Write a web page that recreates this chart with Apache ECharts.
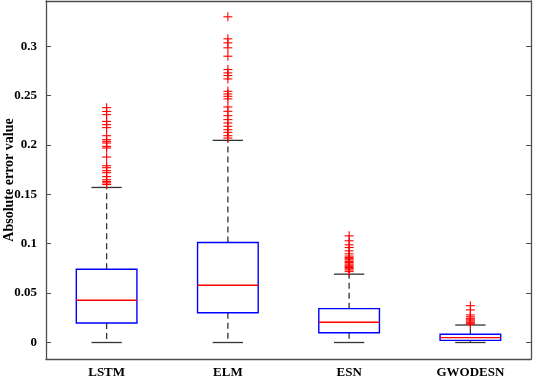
<!DOCTYPE html>
<html>
<head>
<meta charset="utf-8">
<script src="https://cdn.jsdelivr.net/npm/echarts@6/dist/echarts.min.js"></script>
<style>
  html, body { margin: 0; padding: 0; background: #fff; }
  #chart { width: 533px; height: 379px; }
</style>
</head>
<body>
<div id="chart"></div>
<script>
// models on the x axis
const models = ['LSTM', 'ELM', 'ESN', 'GWODESN'];

// [lower whisker, Q1, median, Q3, upper whisker]
const lstmBox = [0, 0.0198, 0.0428, 0.0742, 0.157];
const elmBox = [0, 0.0302, 0.058, 0.1012, 0.2047];
const esnBox = [0, 0.0099, 0.0205, 0.0343, 0.0692];
const gwoBox = [0, 0.0022, 0.0049, 0.0083, 0.0177];

// outliers
const lstmOut = [0.2378, 0.234, 0.2307, 0.2239, 0.2206, 0.2176, 0.2094, 0.2054, 0.2037, 0.202,
  0.1986, 0.197, 0.1878, 0.179, 0.177, 0.174, 0.172, 0.168, 0.1648, 0.163, 0.1616, 0.16];
const elmOut = [0.3298, 0.3075, 0.3034, 0.2984, 0.2899, 0.2764, 0.273, 0.2703, 0.2669, 0.2544,
  0.2517, 0.2493, 0.2467, 0.2385, 0.2341, 0.2297, 0.2257, 0.2223, 0.2189, 0.2155, 0.2128, 0.2094, 0.207];
const esnOut = [0.108, 0.103, 0.0989, 0.0962, 0.0928, 0.0898, 0.0875, 0.086, 0.0848, 0.0837,
  0.0822, 0.081, 0.0795, 0.0783, 0.0771, 0.0759, 0.0747, 0.0735, 0.0718];
const gwoOut = [0.0373, 0.033, 0.0279, 0.026, 0.0245, 0.023, 0.0218, 0.0205, 0.0195, 0.0185];

const yTicks = [0, 0.05, 0.1, 0.15, 0.2, 0.25, 0.3];

const boxes = [lstmBox, elmBox, esnBox, gwoBox];
const outliers = [lstmOut, elmOut, esnOut, gwoOut];

const boxData = boxes.map((b, i) => [i].concat(b));
const outData = [];
outliers.forEach((list, i) => list.forEach(v => outData.push([i, v])));

const frameColor = '#4d4d4d';
const labelFont = { fontFamily: 'Liberation Serif', fontWeight: 'bold', fontSize: 13, color: '#000' };

const renderBox = (params, api) => {
  const i = api.value(0);
  const band = api.size([1, 0])[0];
  const half = band * 0.25;
  const capHalf = band * 0.125;
  const lo = api.coord([i, api.value(1)]);
  const q1 = api.coord([i, api.value(2)]);
  const med = api.coord([i, api.value(3)]);
  const q3 = api.coord([i, api.value(4)]);
  const hi = api.coord([i, api.value(5)]);
  const x = lo[0];
  const dash = { stroke: '#333', lineWidth: 1.3, lineDash: [6, 4] };
  const solid = { stroke: '#333', lineWidth: 1.3 };
  return {
    type: 'group',
    children: [
      { type: 'line', shape: { x1: x, y1: q3[1], x2: x, y2: hi[1] }, style: dash },
      { type: 'line', shape: { x1: x, y1: q1[1], x2: x, y2: lo[1] }, style: dash },
      { type: 'line', shape: { x1: x - capHalf, y1: hi[1], x2: x + capHalf, y2: hi[1] }, style: solid },
      { type: 'line', shape: { x1: x - capHalf, y1: lo[1], x2: x + capHalf, y2: lo[1] }, style: solid },
      { type: 'rect', shape: { x: x - half, y: q3[1], width: half * 2, height: q1[1] - q3[1] },
        style: { fill: 'none', stroke: '#0000ff', lineWidth: 1.4 } },
      { type: 'line', shape: { x1: x - half, y1: med[1], x2: x + half, y2: med[1] },
        style: { stroke: '#ff0000', lineWidth: 1.3 } }
    ]
  };
};

const renderPlus = (params, api) => {
  const p = api.coord([api.value(0), api.value(1)]);
  const r = 4.5;
  const st = { stroke: '#ff0000', lineWidth: 1.1 };
  return {
    type: 'group',
    children: [
      { type: 'line', shape: { x1: p[0] - r, y1: p[1], x2: p[0] + r, y2: p[1] }, style: st },
      { type: 'line', shape: { x1: p[0], y1: p[1] - r, x2: p[0], y2: p[1] + r }, style: st }
    ]
  };
};

const chart = echarts.init(document.getElementById('chart'));
chart.setOption({
  animation: false,
  grid: { left: 46, right: 2, top: 1, bottom: 20, containLabel: false, outerBoundsMode: 'none' },
  xAxis: [
    {
      type: 'category', data: models, position: 'bottom',
      axisLine: { onZero: false, lineStyle: { color: frameColor, width: 1.3 } },
      axisTick: { inside: true, alignWithLabel: true, length: 5, lineStyle: { color: frameColor } },
      axisLabel: Object.assign({ margin: 7 }, labelFont),
      splitLine: { show: false }
    },
    {
      type: 'category', data: models, position: 'top',
      axisLine: { onZero: false, lineStyle: { color: frameColor, width: 1.3 } },
      axisTick: { inside: true, alignWithLabel: true, length: 5, lineStyle: { color: frameColor } },
      axisLabel: { show: false },
      splitLine: { show: false }
    }
  ],
  yAxis: [
    {
      type: 'value', min: -0.0167, max: 0.3458, position: 'left',
      name: 'Absolute error value', nameLocation: 'middle', nameGap: 30, nameRotate: 90,
      nameMoveOverlap: false,
      nameTextStyle: Object.assign({}, labelFont, { fontSize: 14 }),
      axisLine: { show: true, onZero: false, lineStyle: { color: frameColor, width: 1.3 } },
      axisTick: { show: true, inside: true, length: 5, customValues: yTicks, lineStyle: { color: frameColor } },
      axisLabel: Object.assign({ margin: 9, customValues: yTicks, formatter: v => String(v) }, labelFont),
      splitLine: { show: false }
    },
    {
      type: 'value', min: -0.0167, max: 0.3458, position: 'right',
      axisLine: { show: true, onZero: false, lineStyle: { color: frameColor, width: 1.3 } },
      axisTick: { show: true, inside: true, length: 5, customValues: yTicks, lineStyle: { color: frameColor } },
      axisLabel: { show: false },
      splitLine: { show: false }
    }
  ],
  series: [
    {
      type: 'custom', name: 'box', xAxisIndex: 0, yAxisIndex: 0,
      renderItem: renderBox, data: boxData, encode: { x: 0, y: [1, 2, 3, 4, 5] }
    },
    {
      type: 'custom', name: 'outliers', xAxisIndex: 0, yAxisIndex: 0,
      renderItem: renderPlus, data: outData, encode: { x: 0, y: 1 }
    }
  ]
});
</script>
</body>
</html>
